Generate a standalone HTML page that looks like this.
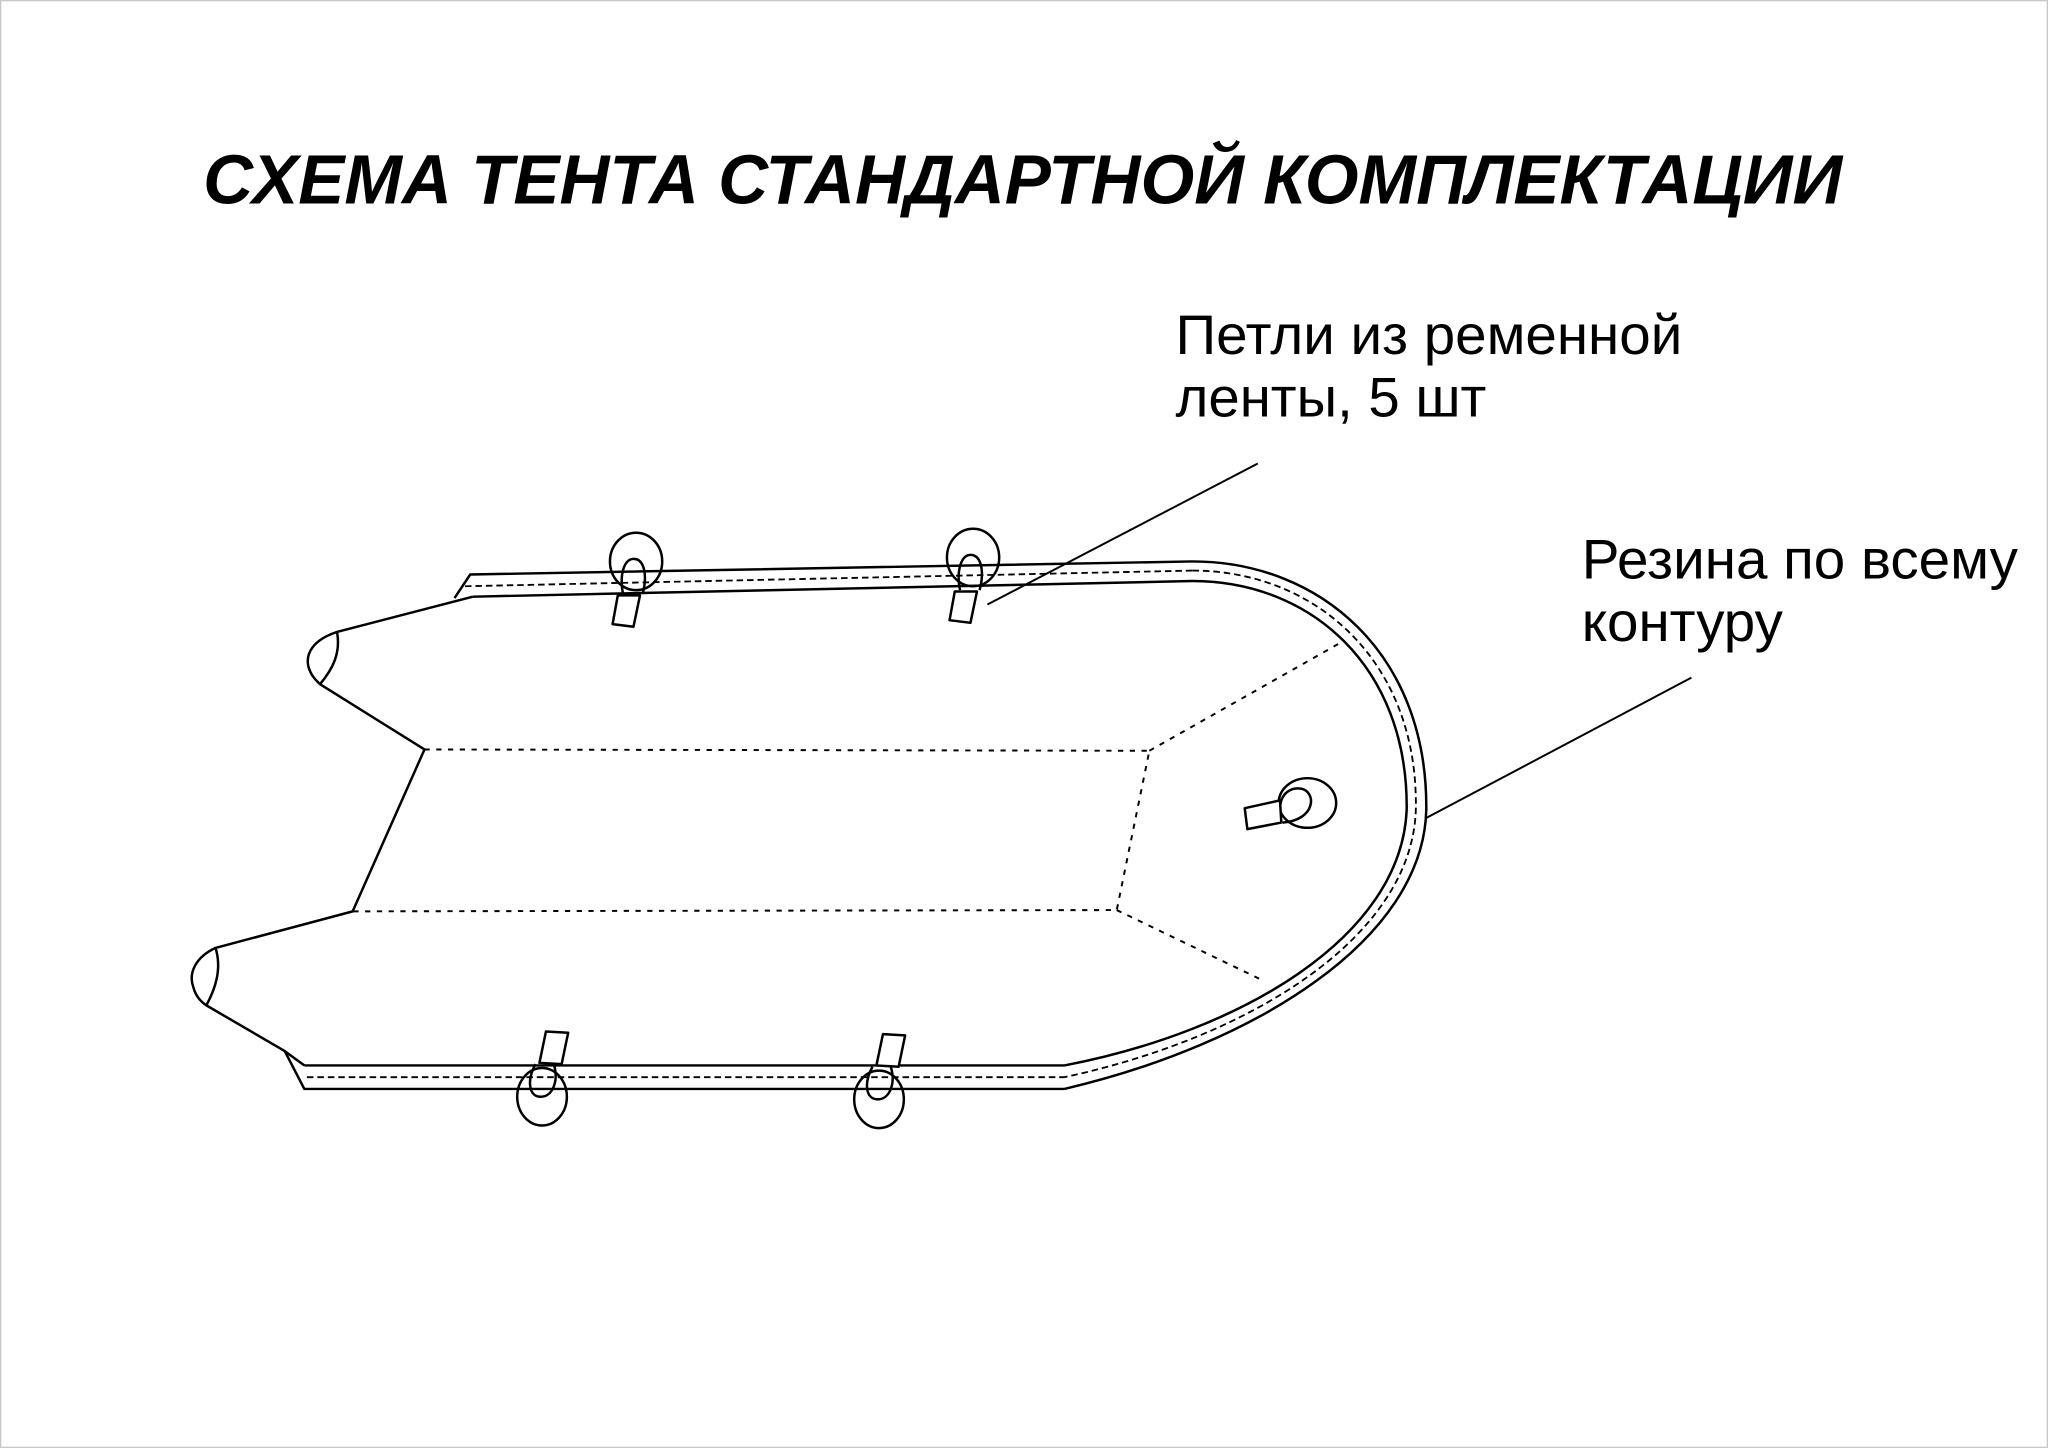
<!DOCTYPE html>
<html><head><meta charset="utf-8"><style>
html,body{margin:0;padding:0;background:#fff;}
svg{display:block;}
</style></head><body>
<svg width="2048" height="1448" viewBox="0 0 1568 1109" preserveAspectRatio="none" xmlns="http://www.w3.org/2000/svg">
<rect x="0.5" y="0.5" width="1567" height="1108" fill="#fff" stroke="#c8c8c8" stroke-width="1"/>
<text x="783" y="156" text-anchor="middle" font-family="Liberation Sans, sans-serif" font-size="53" font-weight="bold" font-style="italic" textLength="1255" lengthAdjust="spacingAndGlyphs">СХЕМА ТЕНТА СТАНДАРТНОЙ КОМПЛЕКТАЦИИ</text>
<g font-family="Liberation Sans, sans-serif" font-size="42.5" fill="#000">
<text x="900" y="271" textLength="388" lengthAdjust="spacingAndGlyphs">Петли из ременной</text>
<text x="900" y="319" textLength="238" lengthAdjust="spacingAndGlyphs">ленты, 5 шт</text>
<text x="1211" y="443" textLength="334" lengthAdjust="spacingAndGlyphs">Резина по всему</text>
<text x="1211" y="491" textLength="154" lengthAdjust="spacingAndGlyphs">контуру</text>
</g>
<g fill="none" stroke="#000" stroke-width="1.9" stroke-linejoin="round">
<path d="M348,458 L360,440 L913,430"/>
<path d="M362,457 L913,445"/>
<path d="M356,449 L913,437" stroke-dasharray="5,3" stroke-width="1.4"/>
<path d="M913,430 C1010,430 1093,500 1092,620 C1090,720 960,800 815,834"/>
<path d="M913,445 C1003,445 1078,510 1077,620 C1073,718 950,790 815,816"/>
<path d="M913,437 C1006,437 1086,505 1084,620 C1081,719 955,795 815,825" stroke-dasharray="5,3" stroke-width="1.4"/>
<path d="M218,805 L233,834 L815,834"/>
<path d="M233,816 L815,816"/>
<path d="M235,825 L815,825" stroke-dasharray="5,3" stroke-width="1.4"/>
<path d="M362,457 L258,484 C240,490 234,500 236,510 C238,518 243,522 245,524 L325,574 L270,698 L165,726 C150,733 144,745 148,756 C150,764 155,768 158,770 L218,805 L233,816"/>
<path d="M258,484 C261,500 255,512 245,524"/>
<path d="M165,726 C170,742 165,757 158,770"/>
<g stroke-dasharray="4,5" stroke-width="1.5">
<path d="M325,574 L880,575 L855,697 L270,698"/>
<path d="M880,575 L1025,493"/>
<path d="M855,697 L965,750"/>
</g>
<path d="M963,355 L756,463" stroke-width="1.5"/>
<path d="M1295,519 L1091,627" stroke-width="1.5"/>
<g>
<ellipse cx="487" cy="430" rx="20" ry="22" fill="none"/>
<path d="M477,455 C474,440 478,428 485,428 C493,428 496,440 492,455"/>
<path d="M473,456 L490,456 L485,480 L469,478 Z" fill="#fff"/>
</g>
<g transform="translate(258,-3)">
<ellipse cx="487" cy="430" rx="20" ry="22" fill="none"/>
<path d="M477,455 C474,440 478,428 485,428 C493,428 496,440 492,455"/>
<path d="M473,456 L490,456 L485,480 L469,478 Z" fill="#fff"/>
</g>
<g>
<path d="M418,790 L435,791 L430,815 L413,814 Z" fill="#fff"/>
<ellipse cx="415" cy="840" rx="19" ry="22" fill="none"/>
<path d="M410,815 C403,828 405,840 414,840 C423,840 428,828 424,815"/>
</g>
<g transform="translate(258,2)">
<path d="M418,790 L435,791 L430,815 L413,814 Z" fill="#fff"/>
<ellipse cx="415" cy="840" rx="19" ry="22" fill="none"/>
<path d="M410,815 C403,828 405,840 414,840 C423,840 428,828 424,815"/>
</g>
<ellipse cx="1001" cy="615" rx="22" ry="19" fill="none"/>
<path d="M980,620 C980,606 990,603 996,604 C1008,606 1008,628 982,630"/>
<path d="M953,619 L980,613 L981,630 L955,635 Z" fill="#fff"/>
</g>
</svg>
</body></html>
